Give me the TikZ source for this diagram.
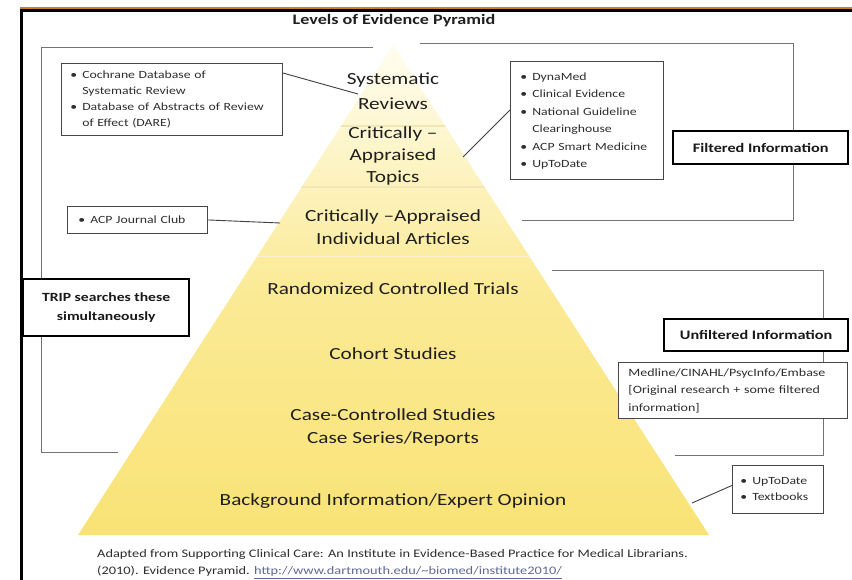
\documentclass[tikz,border=0pt]{standalone}
\usepackage{fontspec}
\setmainfont{Carlito}[FakeStretch=1.25]
\definecolor{pyrtop}{RGB}{255,253,240}
\definecolor{pyrmid}{RGB}{251,234,150}
\definecolor{pyrbot}{RGB}{249,227,118}
\definecolor{bandline}{RGB}{242,230,180}
\definecolor{frameorange}{RGB}{200,130,30}
\definecolor{urlcol}{RGB}{95,105,150}
\tikzset{
  lvl/.style={font=\fontsize{17}{23}\selectfont, text=black!88, align=center, inner sep=0pt},
  lbox/.style={draw=black!72, line width=0.9pt, fill=white, anchor=north west,
               font=\fontsize{11}{16}\selectfont, align=left, text=black!82},
  hbox/.style={draw=black, line width=2.4pt, fill=white, anchor=north west,
               font=\bfseries\fontsize{13}{19}\selectfont, align=center, text=black!90, inner sep=0pt},
  brk/.style={draw=black!55, line width=0.9pt},
  con/.style={draw=black!75, line width=0.9pt},
}
\begin{document}
\begin{tikzpicture}[x=1pt,y=-1pt]
\useasboundingbox (0,0) rectangle (852,580);
\fill[white] (0,0) rectangle (852,580);
% frame
\draw[frameorange, line width=1.2pt] (20,8) -- (852,8);
\draw[black, line width=2.6pt] (20,10.5) -- (852,10.5);
\draw[black, line width=3pt] (21,9) -- (21,580);

% pyramid
\shade[top color=pyrtop, bottom color=pyrbot, middle color=pyrmid] (393,45) -- (709,535) -- (78,535) -- cycle;
\begin{scope}
  \clip (393,45) -- (709,535) -- (78,535) -- cycle;
  \draw[bandline, line width=1.2pt] (0,126) -- (852,126);
  \draw[bandline, line width=1.2pt] (0,187) -- (852,187);
  \draw[bandline!60!white, line width=1pt] (0,257) -- (852,257);
\end{scope}

% brackets
\draw[brk] (373,47) -- (41,47) -- (41,452) -- (118,452);
\draw[brk] (420,43) -- (793,43) -- (793,220) -- (522,220);
\draw[brk] (552,270) -- (823,270) -- (823,455) -- (675,455);

% title
\node[font=\bfseries\fontsize{14.5}{17}\selectfont, text=black!88] (title) at (394,20.5) {Levels of Evidence Pyramid};

% pyramid levels
\node[lvl, font=\fontsize{17}{25}\selectfont] (sr) at (393,91) {Systematic\\Reviews};
\node[lvl, font=\fontsize{17}{22}\selectfont] (cat) at (393,156) {Critically –\\Appraised\\Topics};
\node[lvl] (cai) at (393,227) {Critically –Appraised\\Individual Articles};
\node[lvl] (rct) at (393,289) {Randomized Controlled Trials};
\node[lvl] (coh) at (393,354) {Cohort Studies};
\node[lvl] (ccs) at (393,427) {Case-Controlled Studies\\Case Series/Reports};
\node[lvl] (bg) at (393,501) {Background Information/Expert Opinion};

% list boxes
\node[lbox, inner xsep=9pt, text width=203pt, minimum height=72pt] (coch) at (61,63)
 {\begin{tabular}{@{}l@{\hspace{5pt}}l@{}}\textbullet & Cochrane Database of\\ & Systematic Review\\ \textbullet & Database of Abstracts of Review\\ & of Effect (DARE)\end{tabular}};
\node[lbox, inner xsep=10pt, text width=133pt, minimum height=118pt, font=\fontsize{11}{17.4}\selectfont] (dyna) at (510,61)
 {\begin{tabular}{@{}l@{\hspace{5pt}}l@{}}\textbullet & DynaMed\\ \textbullet & Clinical Evidence\\ \textbullet & National Guideline\\ & Clearinghouse\\ \textbullet & ACP Smart Medicine\\ \textbullet & UpToDate\end{tabular}};
\node[lbox, inner xsep=11pt, text width=118pt, minimum height=27pt, inner ysep=0pt] (acp) at (67,206)
 {\begin{tabular}{@{}l@{\hspace{5pt}}l@{}}\textbullet & ACP Journal Club\end{tabular}};
\node[lbox, inner xsep=8pt, text width=75pt, minimum height=48pt] (utd) at (732,465)
 {\begin{tabular}{@{}l@{\hspace{5pt}}l@{}}\textbullet & UpToDate\\ \textbullet & Textbooks\end{tabular}};
\node[lbox, inner xsep=10pt, text width=209pt, minimum height=56pt, font=\fontsize{11.2}{17.5}\selectfont] (med) at (618,362)
 {Medline/CINAHL/PsycInfo/Embase\\{[}Original research + some filtered\\information{]}};

% bold label boxes
\node[hbox, minimum width=175pt, minimum height=33pt] (filt) at (672,130) {Filtered Information};
\node[hbox, minimum width=184pt, minimum height=32pt] (unfilt) at (663,318) {Unfiltered Information};
\node[hbox, minimum width=166pt, minimum height=57pt, font=\bfseries\fontsize{12.5}{19}\selectfont] (trip) at (22,278) {TRIP searches these\\simultaneously};

% connectors
\coordinate (c1) at (358,94);
\coordinate (c2) at (463,157);
\coordinate (c3) at (280,223);
\coordinate (c4) at (692,503);
\draw[con] ([yshift=-10pt]coch.north east) -- (c1);
\draw[con] ([yshift=-49pt]dyna.north west) -- (c2);
\draw[con] (acp.east) -- (c3);
\draw[con] ([yshift=4pt]utd.west) -- (c4);

% caption
\node[anchor=north west, align=left, inner sep=0pt, font=\fontsize{11.5}{17.5}\selectfont, text=black!82] (cap) at (97,549)
 {Adapted from Supporting Clinical Care: An Institute in Evidence-Based Practice for Medical Librarians.\\(2010). Evidence Pyramid. \textcolor{urlcol}{\underline{http://www.dartmouth.edu/\char`\~biomed/institute2010/}}};
\end{tikzpicture}
\end{document}
